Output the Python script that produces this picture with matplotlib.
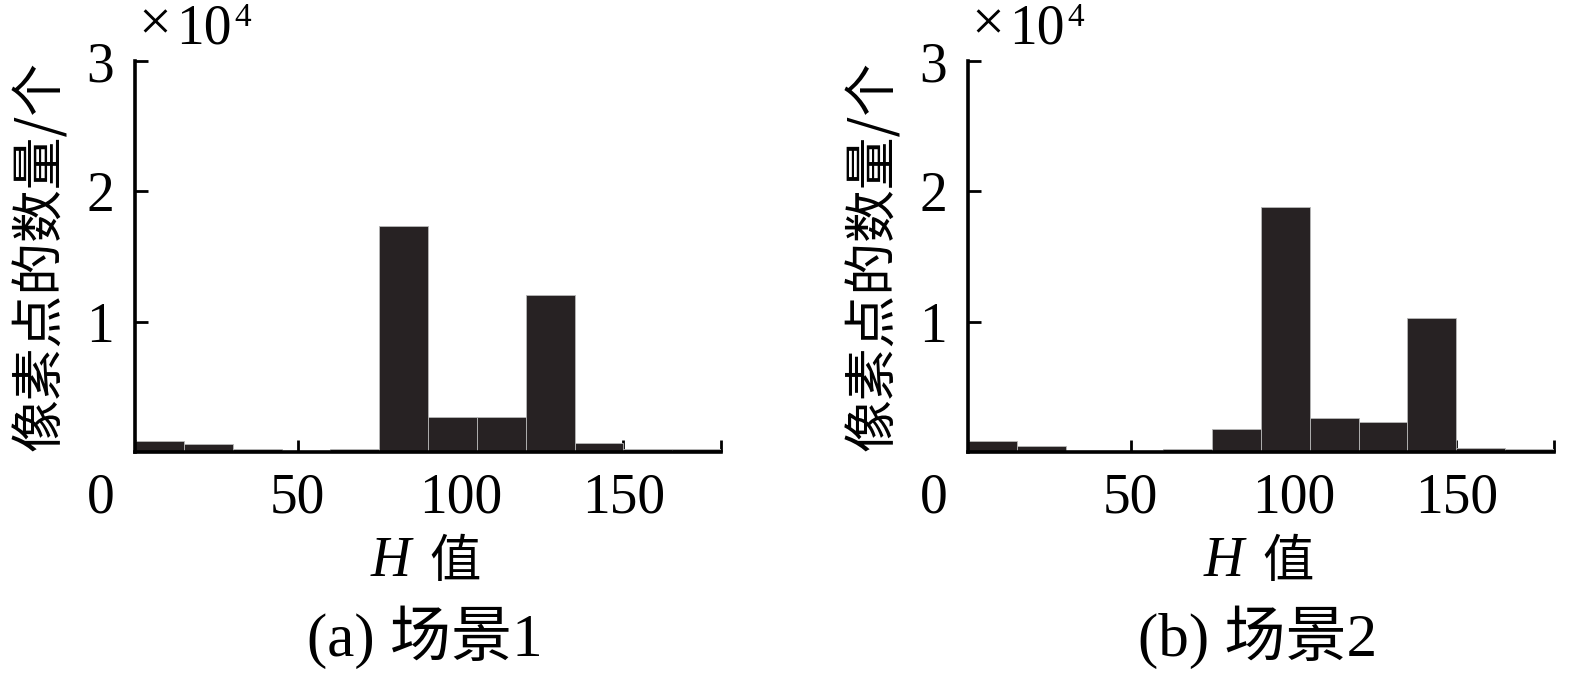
import matplotlib
matplotlib.use('Agg')
import matplotlib.pyplot as plt

# ---------------- data ----------------
bin_edges = [0, 15, 30, 45, 60, 75, 90, 105, 120, 135, 150, 165, 180]
counts_a = [840, 590, 210, 80, 210, 17370, 2650, 2700, 12070, 710, 250, 210]
counts_b = [840, 460, 80, 80, 210, 1740, 18770, 2580, 2300, 10310, 330, 210]
x_ticks = [0, 50, 100, 150, 180]
x_tick_labels = ['', '50', '100', '150', '']
origin_label = '0'
y_ticks = [10000, 20000, 30000]
y_tick_labels = ['1', '2', '3']
titles = ['(a) 场景1', '(b) 场景2']
y_label = '像素点的数量/个'
x_label_var = 'H'
x_label_cn = '值'
mult_sign = '×'
mult_base = '10'
mult_exp = '4'

W, H = 1575, 679
fig = plt.figure(figsize=(W / 100, H / 100), dpi=100)

serif = ['Liberation Serif', 'Noto Sans CJK SC']
cjk = ['Noto Sans CJK SC', 'Liberation Serif']
bar_color = '#272223'

panels = [(135, counts_a, titles[0]), (968, counts_b, titles[1])]
ax_w, ax_top, ax_bot = 586, 61, 452
renderer = fig.canvas.get_renderer()

for x0, counts, title in panels:
    ax = fig.add_axes([x0 / W, (H - ax_bot) / H, ax_w / W, (ax_bot - ax_top) / H])
    ax.bar(bin_edges[:-1], counts, width=15, align='edge', color=bar_color,
           edgecolor='#b8b8b8', linewidth=0.6, zorder=2)
    ax.set_xlim(0, 180)
    ax.set_ylim(0, 30000)
    for s in ['top', 'right']:
        ax.spines[s].set_visible(False)
    for s in ['left', 'bottom']:
        ax.spines[s].set_linewidth(2.6)
        ax.spines[s].set_color('black')
        ax.spines[s].set_zorder(3)
    ax.set_xticks(x_ticks)
    ax.set_xticklabels(x_tick_labels, fontfamily=serif, fontsize=40)
    ax.set_yticks(y_ticks)
    ax.set_yticklabels(y_tick_labels, fontfamily=serif, fontsize=40)
    ax.tick_params(axis='both', direction='in', length=9, width=2, color='black')
    ax.tick_params(axis='x', pad=15)
    ax.tick_params(axis='y', pad=15)
    # origin label "0"
    ax.annotate(origin_label, xy=(0, 0), xycoords='axes fraction',
                xytext=(-25, -15), textcoords='offset points',
                ha='center', va='top', fontsize=40, fontfamily=serif)
    # multiplier  x10^4
    t1 = fig.text((x0 + 3) / W, 1 - 40 / H, mult_sign, ha='left', va='baseline',
                  fontsize=42, fontfamily='Liberation Serif')
    bb = t1.get_window_extent(renderer)
    t2 = fig.text((bb.x1 + 5) / W, 1 - 43 / H, mult_base, ha='left', va='baseline',
                  fontsize=40, fontfamily='Liberation Serif')
    bb2 = t2.get_window_extent(renderer)
    fig.text((bb2.x1 + 3) / W, 1 - 26 / H, mult_exp, ha='left', va='baseline',
             fontsize=24, fontfamily='Liberation Serif')
    # y label
    fig.text((x0 - 95) / W, 1 - 256 / H, y_label, rotation=90, ha='center',
             va='center', fontsize=38, fontfamily=cjk)
    # x label
    fig.text((x0 + 276) / W, 1 - 562 / H, x_label_var, ha='right', va='center',
             fontsize=40, fontfamily='Liberation Serif', fontstyle='italic')
    fig.text((x0 + 294) / W, 1 - 562 / H, x_label_cn, ha='left', va='center',
             fontsize=37, fontfamily=cjk)
    # subtitle
    fig.text((x0 + 290) / W, 1 - 637 / H, title, ha='center', va='center',
             fontsize=44, fontfamily=serif)

fig.savefig('out.png', dpi=100)
